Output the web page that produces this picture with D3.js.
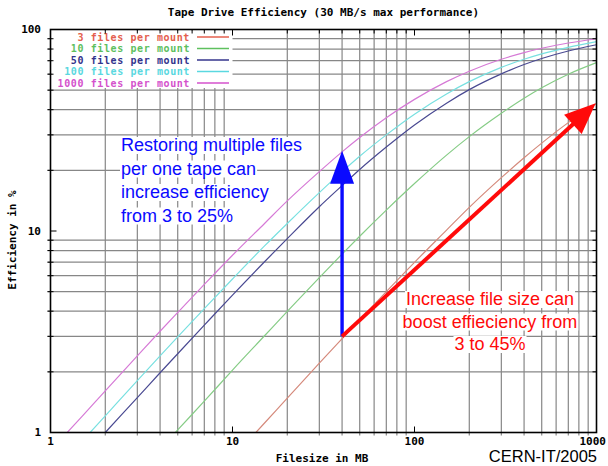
<!DOCTYPE html>
<meta charset="utf-8">
<style>
body {
  margin: 0;
  background-color: #ffffff;
}
svg {
  display: block;
}
.mono {
  font-family: 'DejaVu Sans Mono', monospace;
  font-size: 11px;
  font-weight: bold;
}
.legend {
  font-family: 'DejaVu Sans Mono', monospace;
  font-size: 10px;
  font-weight: bold;
  letter-spacing: 0.6px;
}
.grid line {
  stroke: #878787;
  stroke-width: 1.2px;
}
.tick line {
  stroke: #000;
  stroke-width: 1px;
}
.curve {
  fill: none;
  stroke-width: 1.2px;
}
.note {
  font-family: 'Liberation Sans', Arial, sans-serif;
  font-size: 18px;
}
</style>
<svg width="608" height="466"></svg>
<script src="https://d3js.org/d3.v7.min.js"></script>
<script>
// file size in MB
var fileSizes = [1, 1.5, 2, 3, 4, 5, 7, 10, 15, 20, 30, 40, 50, 70, 100, 150, 200, 300, 400, 500, 700, 1000];
// efficiency in % per files-per-mount setting
var eff3    = [0.075, 0.113, 0.15, 0.225, 0.3, 0.375, 0.524, 0.746, 1.115, 1.48, 2.21, 2.92, 3.62, 5.0, 6.99, 10.1, 13.1, 18.4, 23.1, 27.3, 34.5, 42.9];
var eff10   = [0.207, 0.311, 0.414, 0.62, 0.825, 1.03, 1.43, 2.04, 3.02, 3.99, 5.87, 7.68, 9.42, 12.7, 17.2, 23.8, 29.4, 38.4, 45.6, 51.4, 60.0, 68.5];
var eff50   = [0.503, 0.752, 1.0, 1.49, 1.98, 2.46, 3.41, 4.81, 7.04, 9.17, 13.2, 16.8, 20.2, 26.1, 33.6, 43.1, 50.3, 60.2, 67.0, 71.8, 78.2, 84.0];
var eff100  = [0.61, 0.91, 1.21, 1.81, 2.4, 2.98, 4.12, 5.78, 8.43, 10.9, 15.5, 19.7, 23.5, 30.0, 38.0, 47.9, 55.1, 64.9, 71.2, 75.7, 81.6, 87.0];
var eff1000 = [0.813, 1.21, 1.61, 2.4, 3.18, 3.94, 5.43, 7.58, 10.9, 14.1, 19.7, 24.7, 29.1, 36.5, 45.0, 55.1, 62.1, 71.2, 76.8, 80.7, 85.7, 90.0];

var seriesNames = ["3 files per mount", "10 files per mount", "50 files per mount", "100 files per mount", "1000 files per mount"];
var seriesValues = [eff3, eff10, eff50, eff100, eff1000];
var curveColors = ["#d58a7c", "#86cc86", "#4a4a92", "#78e0e0", "#d67ad6"];
var legendColors = ["#e4604e", "#5ec05e", "#34348c", "#5ad8e0", "#d452cc"];

var xTickLabels = [1, 10, 100, 1000];
var yTickLabels = [1, 10, 100];
var xMinor = [2, 3, 4, 5, 6, 7, 8, 9, 20, 30, 40, 50, 60, 70, 80, 90, 200, 300, 400, 500, 600, 700, 800, 900];
var yMinor = [2, 3, 4, 5, 6, 7, 8, 9, 20, 30, 40, 50, 60, 70, 80, 90];

var svg = d3.select("svg");

var x = d3.scaleLog().domain([1, 1000]).range([50.5, 596.5]);
var y = d3.scaleLog().domain([1, 100]).range([432.5, 29.5]);

var pLeft = x(1), pRight = x(1000), pTop = y(100), pBottom = y(1);

svg.append("rect").attr("width", 608).attr("height", 466).attr("fill", "#fff");

svg.append("clipPath").attr("id", "plot")
  .append("rect")
    .attr("x", pLeft).attr("y", pTop)
    .attr("width", pRight - pLeft).attr("height", pBottom - pTop);

// grid
var grid = svg.append("g").attr("class", "grid");
grid.selectAll(".vx").data(xMinor).enter().append("line")
    .attr("x1", function(d) { return x(d); })
    .attr("x2", function(d) { return x(d); })
    .attr("y1", pTop).attr("y2", pBottom + 3);
grid.selectAll(".hy").data(yMinor).enter().append("line")
    .attr("y1", function(d) { return y(d); })
    .attr("y2", function(d) { return y(d); })
    .attr("x1", pLeft - 3).attr("x2", pRight);

// curves
var line = d3.line()
    .x(function(d) { return x(d[0]); })
    .y(function(d) { return y(d[1]); })
    .curve(d3.curveMonotoneX);

svg.append("g").attr("clip-path", "url(#plot)")
  .selectAll("path")
  .data(seriesValues)
  .enter().append("path")
    .attr("class", "curve")
    .attr("stroke", function(d, i) { return curveColors[i]; })
    .attr("d", function(d) { return line(fileSizes.map(function(s, j) { return [s, d[j]]; })); });

// legend box hides the grid behind it
var legendBottom = 88;
svg.append("rect")
    .attr("x", pLeft + 1).attr("y", pTop + 1)
    .attr("width", x(10) - pLeft - 1).attr("height", legendBottom - pTop - 1)
    .attr("fill", "#fff");

var legend = svg.append("g").attr("class", "legend");
seriesNames.forEach(function(name, i) {
  var ly = 37 + i * 11.5;
  legend.append("text")
      .attr("x", 190).attr("y", ly)
      .attr("dy", "0.35em")
      .attr("text-anchor", "end")
      .attr("fill", legendColors[i])
      .text(name);
  legend.append("line")
      .attr("x1", 197).attr("x2", 229)
      .attr("y1", ly).attr("y2", ly)
      .attr("stroke", legendColors[i])
      .attr("stroke-width", 1.5);
});

// ticks
var ticks = svg.append("g").attr("class", "tick");
xMinor.forEach(function(d) {
  ticks.append("line").attr("x1", x(d)).attr("x2", x(d)).attr("y1", pTop).attr("y2", pTop + 4);
});
yMinor.forEach(function(d) {
  ticks.append("line").attr("x1", pLeft - 3).attr("x2", pLeft + 3).attr("y1", y(d)).attr("y2", y(d));
  ticks.append("line").attr("x1", pRight - 4).attr("x2", pRight).attr("y1", y(d)).attr("y2", y(d));
});
[10, 100].forEach(function(d) {
  ticks.append("line").attr("x1", x(d)).attr("x2", x(d)).attr("y1", pBottom).attr("y2", pBottom - 6);
  ticks.append("line").attr("x1", x(d)).attr("x2", x(d)).attr("y1", pTop).attr("y2", pTop + 6);
});
ticks.append("line").attr("x1", pLeft).attr("x2", pLeft + 6).attr("y1", y(10)).attr("y2", y(10));
ticks.append("line").attr("x1", pRight).attr("x2", pRight - 6).attr("y1", y(10)).attr("y2", y(10));

// frame
svg.append("rect")
    .attr("x", pLeft).attr("y", pTop)
    .attr("width", pRight - pLeft).attr("height", pBottom - pTop)
    .attr("fill", "none")
    .attr("stroke", "#000")
    .attr("stroke-width", 1.6);

// tick labels
var labels = svg.append("g").attr("class", "mono").attr("fill", "#000");
labels.selectAll(".yl").data(yTickLabels).enter().append("text")
    .attr("x", 41)
    .attr("y", function(d) { return y(d); })
    .attr("dy", "0.35em")
    .attr("text-anchor", "end")
    .text(function(d) { return d; });
labels.selectAll(".xl").data(xTickLabels).enter().append("text")
    .attr("x", function(d, i) { return i === xTickLabels.length - 1 ? 606 : x(d); })
    .attr("y", 445)
    .attr("text-anchor", function(d, i) { return i === xTickLabels.length - 1 ? "end" : "middle"; })
    .text(function(d) { return d; });

labels.append("text")
    .attr("x", (pLeft + pRight) / 2).attr("y", 16)
    .attr("text-anchor", "middle")
    .text("Tape Drive Efficiency (30 MB/s max performance)");
labels.append("text")
    .attr("x", 322).attr("y", 462)
    .attr("text-anchor", "middle")
    .text("Filesize in MB");
labels.append("text")
    .attr("transform", "translate(16,240) rotate(-90)")
    .attr("text-anchor", "middle")
    .text("Efficiency in %");

svg.append("text")
    .attr("x", 597).attr("y", 462)
    .attr("text-anchor", "end")
    .style("font-family", "'Liberation Sans', Arial, sans-serif")
    .style("font-size", "16.5px")
    .attr("fill", "#000")
    .text("CERN-IT/2005");

// annotations
function arrow(x0, y0, x1, y1, color, width, headLen, headW) {
  var dx = x1 - x0, dy = y1 - y0, len = Math.sqrt(dx * dx + dy * dy);
  var ux = dx / len, uy = dy / len, nx = -uy, ny = ux;
  var bx = x1 - ux * headLen, by = y1 - uy * headLen;
  svg.append("line")
      .attr("x1", x0).attr("y1", y0).attr("x2", bx + ux * 2).attr("y2", by + uy * 2)
      .attr("stroke", color).attr("stroke-width", width);
  svg.append("path")
      .attr("d", "M" + x1 + "," + y1 +
                 "L" + (bx + nx * headW / 2) + "," + (by + ny * headW / 2) +
                 "L" + (bx - nx * headW / 2) + "," + (by - ny * headW / 2) + "Z")
      .attr("fill", color);
}

var start = [40, 3];
arrow(x(start[0]), y(start[1]), x(40), y(25), "#0a0aff", 3.4, 33, 24);
arrow(x(start[0]), y(start[1]), x(990), y(43), "#ff0a0a", 4, 31, 26);

function note(lines, tx, ty, step, anchor, color) {
  lines.forEach(function(t, i) {
    var txt = svg.append("text")
        .attr("class", "note")
        .attr("x", tx).attr("y", ty + i * step)
        .attr("text-anchor", anchor)
        .attr("fill", color)
        .text(t);
    var b = txt.node().getBBox();
    svg.insert("rect", function() { return txt.node(); })
        .attr("x", b.x - 1).attr("y", b.y + 2)
        .attr("width", b.width + 2).attr("height", b.height - 3)
        .attr("fill", "#fff");
  });
}

note(["Restoring multiple files", "per one tape can", "increase efficiency", "from 3 to 25%"],
     121, 151, 23.5, "start", "#0a0aff");
note(["Increase file size can", "boost effieciency from", "3 to 45%"],
     490, 305, 22.5, "middle", "#ff0a0a");
</script>
